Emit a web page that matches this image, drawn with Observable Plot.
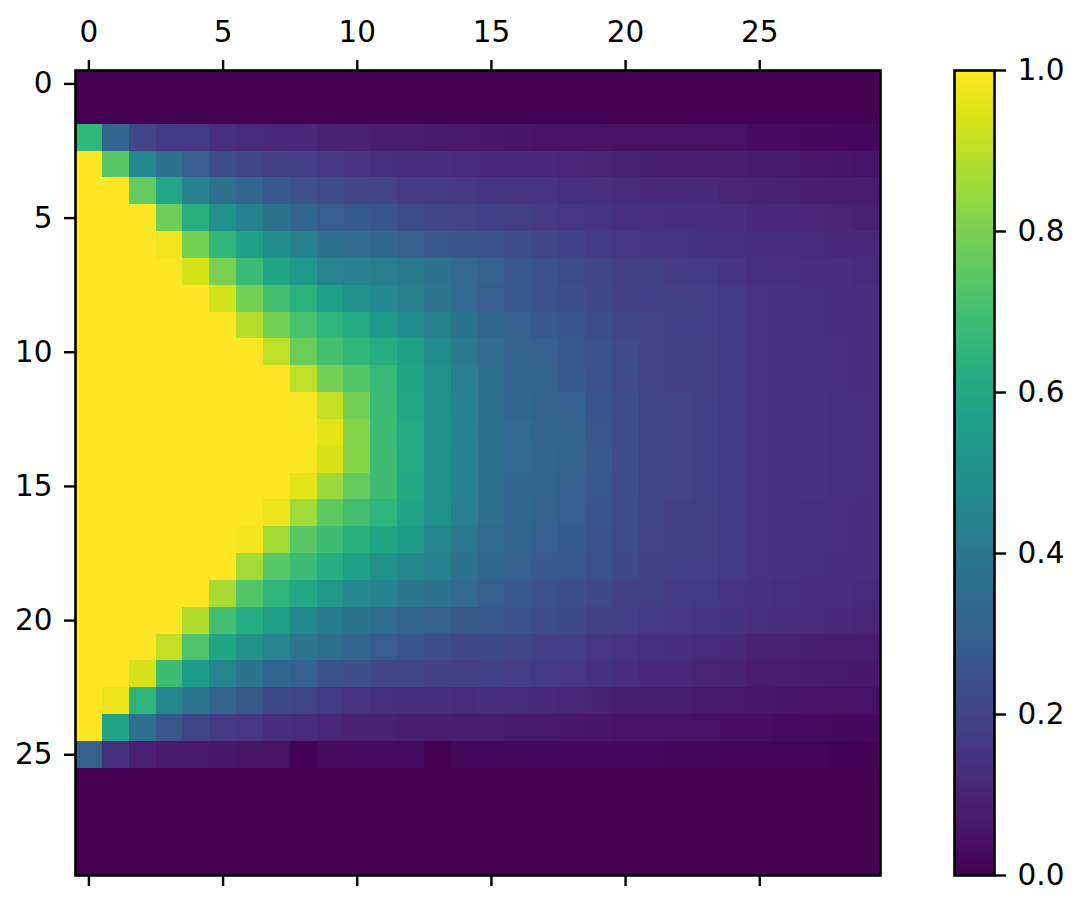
<!DOCTYPE html>
<html>
<head>
<meta charset="utf-8">
<script src="https://cdn.jsdelivr.net/npm/d3@7"></script>
<script src="https://cdn.jsdelivr.net/npm/@observablehq/plot@0.6"></script>
<style>
html,body{margin:0;padding:0;background:#fff;width:1086px;height:912px;overflow:hidden}
#chart{position:relative;width:1086px;height:912px}
#chart svg{position:absolute;left:0;top:0;background:transparent;overflow:visible}
#chart svg text{font-size:29.5px !important;font-family:'DejaVu Sans',sans-serif !important}
</style>
</head>
<body>
<div id="chart"></div>
<script>
const emptyRow = Array(30).fill(0);
const r2  = [.66,.33,.21,.17,.165,.135,.12,.115,.11,.095,.09,.085,.08,.07,.065,.06,.055,.05,.05,.05,.045,.045,.045,.04,.04,.03,.03,.025,.02,.02];
const r3  = [1,.74,.47,.36,.29,.24,.21,.195,.18,.16,.15,.14,.13,.125,.12,.115,.11,.11,.105,.10,.09,.085,.08,.08,.075,.07,.065,.06,.055,.05];
const r4  = [1,1,.76,.6,.44,.36,.33,.28,.25,.225,.21,.2,.175,.165,.16,.155,.15,.15,.14,.135,.12,.115,.11,.11,.10,.095,.09,.085,.08,.075];
const r5  = [1,1,1,.78,.63,.5,.43,.38,.33,.29,.28,.26,.23,.21,.2,.19,.185,.175,.16,.155,.14,.135,.13,.125,.125,.115,.11,.105,.1,.09];
const r6  = [1,1,1,.98,.79,.66,.57,.49,.43,.37,.35,.33,.3,.27,.26,.25,.23,.21,.19,.175,.16,.155,.15,.145,.14,.13,.125,.12,.115,.11];
const r7  = [1,1,1,1,.94,.8,.68,.59,.54,.45,.44,.42,.4,.37,.34,.31,.27,.25,.225,.21,.195,.185,.175,.165,.15,.14,.135,.13,.125,.12];
const r8  = [1,1,1,1,1,.93,.79,.7,.64,.56,.51,.47,.43,.39,.34,.29,.27,.25,.24,.22,.195,.19,.185,.18,.165,.15,.145,.14,.13,.125];
const r9  = [1,1,1,1,1,1,.89,.79,.71,.65,.61,.54,.48,.43,.38,.33,.3,.28,.26,.235,.21,.2,.19,.18,.165,.15,.145,.14,.13,.125];
const r10 = [1,1,1,1,1,1,1,.9,.77,.7,.66,.62,.57,.48,.41,.35,.31,.3,.27,.25,.225,.2,.195,.185,.165,.15,.145,.14,.135,.13];
const r11 = [1,1,1,1,1,1,1,1,.9,.79,.73,.67,.59,.5,.42,.36,.32,.31,.28,.25,.225,.2,.195,.185,.17,.15,.145,.14,.135,.13];
const r12 = [1,1,1,1,1,1,1,1,.995,.91,.79,.68,.6,.51,.43,.36,.33,.31,.3,.265,.235,.205,.2,.19,.165,.15,.145,.145,.14,.135];
const r13 = [1,1,1,1,1,1,1,1,1,.96,.82,.68,.61,.51,.44,.37,.34,.32,.31,.27,.235,.205,.2,.19,.165,.15,.145,.145,.14,.135];
const r14 = [1,1,1,1,1,1,1,1,1,.94,.82,.69,.61,.51,.43,.37,.34,.33,.31,.275,.235,.205,.2,.19,.17,.15,.145,.145,.14,.135];
const r15 = [1,1,1,1,1,1,1,1,.96,.85,.76,.69,.6,.51,.43,.37,.33,.32,.3,.27,.235,.205,.2,.19,.17,.15,.145,.145,.14,.135];
const r16 = [1,1,1,1,1,1,1,.97,.86,.75,.7,.65,.58,.5,.42,.36,.33,.31,.29,.265,.23,.205,.195,.185,.17,.15,.145,.14,.135,.13];
const r17 = [1,1,1,1,1,1,.985,.86,.74,.69,.63,.59,.55,.45,.4,.34,.32,.3,.28,.255,.225,.2,.195,.185,.17,.15,.145,.14,.135,.13];
const r18 = [1,1,1,1,1,1,.86,.74,.68,.62,.57,.5,.47,.43,.37,.33,.3,.28,.27,.245,.215,.195,.19,.18,.165,.15,.145,.14,.13,.125];
const r19 = [1,1,1,1,1,.87,.73,.65,.6,.53,.47,.44,.39,.37,.34,.3,.27,.25,.235,.215,.195,.185,.175,.165,.15,.145,.14,.13,.125,.12];
const r20 = [1,1,1,1,.88,.7,.62,.56,.47,.41,.38,.35,.31,.3,.28,.27,.25,.23,.22,.195,.18,.17,.16,.155,.145,.135,.125,.12,.115,.105];
const r21 = [1,1,1,.91,.72,.59,.5,.45,.39,.36,.33,.29,.26,.235,.215,.22,.205,.19,.18,.16,.15,.14,.13,.12,.11,.095,.09,.085,.08,.075];
const r22 = [1,1,.94,.69,.55,.45,.38,.33,.3,.25,.24,.21,.205,.195,.185,.19,.18,.17,.16,.145,.125,.115,.11,.1,.095,.08,.075,.07,.065,.06];
const r23 = [1,.97,.65,.46,.39,.32,.27,.22,.2,.17,.15,.14,.13,.125,.12,.125,.12,.11,.105,.095,.085,.08,.075,.07,.065,.06,.055,.05,.045,.04];
const r24 = [1,.58,.37,.27,.21,.175,.16,.13,.12,.105,.09,.09,.085,.085,.08,.08,.07,.065,.06,.055,.05,.045,.045,.04,.035,.035,.03,.03,.025,.02];
const r25 = [.3,.14,.09,.07,.065,.06,.05,.045,.002,.03,.03,.03,.03,0,.02,.02,.025,.02,.02,.02,.02,.02,.015,.015,.01,.01,.01,.01,.005,.005];
const rows = [emptyRow,emptyRow,r2,r3,r4,r5,r6,r7,r8,r9,r10,r11,r12,r13,r14,r15,r16,r17,r18,r19,r20,r21,r22,r23,r24,r25,emptyRow,emptyRow,emptyRow,emptyRow];
const xTicks = [0,5,10,15,20,25];
const yTicks = [0,5,10,15,20,25];
const barTicks = [0,0.2,0.4,0.6,0.8,1];

const cells = rows.flatMap((vals,row)=>vals.map((v,col)=>({row,col,v})));
const font = {fontFamily:"'DejaVu Sans',sans-serif",fontSize:"29.5px",color:"#000",background:"transparent",overflow:"visible"};
const color = {type:"linear",scheme:"viridis",domain:[0,1]};
const chart = document.getElementById("chart");

chart.append(Plot.plot({
  width:1086,height:912,marginLeft:75,marginRight:206,marginTop:70,marginBottom:37,
  style:font,
  x:{type:"band",domain:d3.range(30),padding:0,round:false,axis:null},
  y:{type:"band",domain:d3.range(30),padding:0,round:false,axis:null},
  color,
  marks:[
    Plot.cell(cells,{x:"col",y:"row",fill:"v",shapeRendering:"crispEdges"}),
    Plot.frame({stroke:"#000",strokeWidth:2.6,strokeOpacity:1}),
    Plot.axisX({anchor:"top",ticks:xTicks,tickSize:11,tickPadding:18,strokeWidth:2.4,strokeOpacity:1,label:null,fontSize:29.5}),
    Plot.axisX({anchor:"bottom",ticks:xTicks,tickSize:11,tickFormat:()=>"",strokeWidth:2.4,strokeOpacity:1,label:null}),
    Plot.axisY({anchor:"left",ticks:yTicks,tickSize:11,tickPadding:12,strokeWidth:2.4,strokeOpacity:1,label:null,fontSize:29.5})
  ]
}));

const levels = d3.range(256).map(i=>({lo:i/256,hi:(i+1)/256}));
chart.append(Plot.plot({
  width:1086,height:912,marginLeft:954,marginRight:92,marginTop:70,marginBottom:37,
  style:font,
  x:{domain:[0,1],axis:null},
  y:{domain:[0,1],axis:null},
  color,
  marks:[
    Plot.rect(levels,{x1:0,x2:1,y1:"lo",y2:"hi",fill:d=>(d.lo+d.hi)/2,shapeRendering:"crispEdges"}),
    Plot.frame({stroke:"#000",strokeWidth:2.6,strokeOpacity:1}),
    Plot.axisY({anchor:"right",ticks:barTicks,tickFormat:d3.format(".1f"),tickSize:11,tickPadding:12,strokeWidth:2.4,strokeOpacity:1,label:null,fontSize:29.5})
  ]
}));
</script>
</body>
</html>
